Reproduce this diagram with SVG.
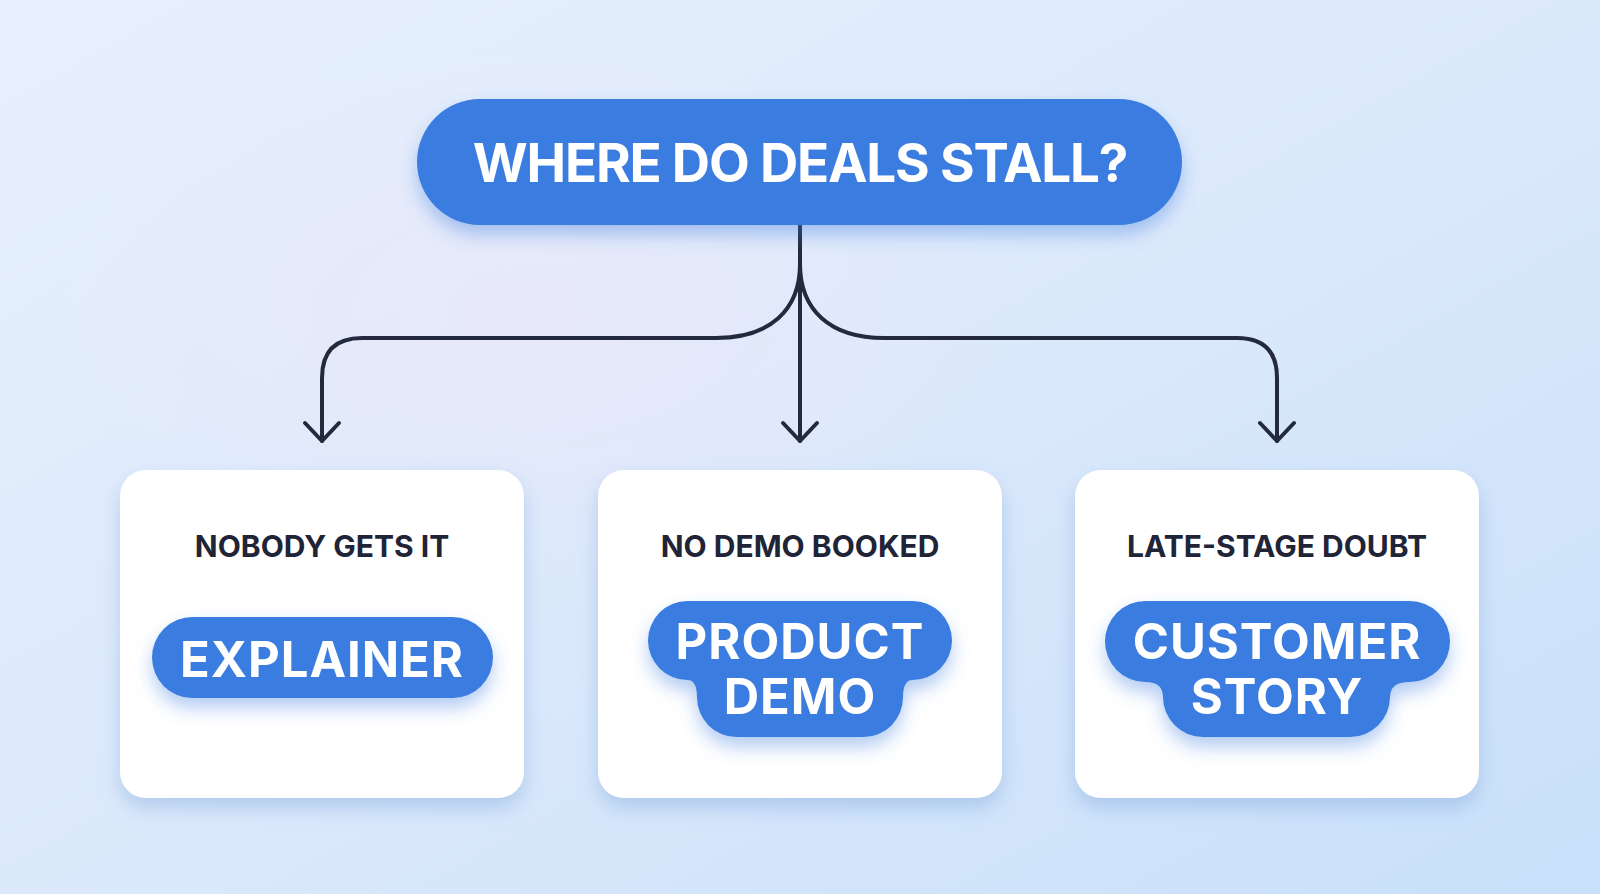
<svg xmlns="http://www.w3.org/2000/svg" width="1600" height="894" viewBox="0 0 1600 894">
  <defs>
    <linearGradient id="bg" x1="0" y1="0" x2="1" y2="1">
      <stop offset="0" stop-color="#e7f0fc"/>
      <stop offset="0.5" stop-color="#dce9fb"/>
      <stop offset="1" stop-color="#c8e0fa"/>
    </linearGradient>
    <radialGradient id="tint" cx="0.33" cy="0.35" r="0.3">
      <stop offset="0" stop-color="#efe6f6" stop-opacity="0.5"/>
      <stop offset="1" stop-color="#efe6f6" stop-opacity="0"/>
    </radialGradient>
    <filter id="cardShadow" x="-20%" y="-20%" width="140%" height="150%">
      <feDropShadow dx="0" dy="10" stdDeviation="10" flood-color="#7ea6dc" flood-opacity="0.45"/>
    </filter>
    <filter id="pillShadow" x="-20%" y="-30%" width="140%" height="180%">
      <feDropShadow dx="0" dy="10" stdDeviation="9" flood-color="#3b7be0" flood-opacity="0.38"/>
    </filter>
    <style>
      .pill { fill: #3b7be0; }
      .card { fill: #ffffff; }
      .title { font-family: Inter, "Liberation Sans", sans-serif; font-weight: 700; font-size: 53px; letter-spacing: -1.2px; fill: #ffffff; text-anchor: middle; }
      .label { font-family: Inter, "Liberation Sans", sans-serif; font-weight: 700; font-size: 30px; fill: #1f2437; text-anchor: middle; }
      .btn { font-family: Inter, "Liberation Sans", sans-serif; font-weight: 700; font-size: 49px; letter-spacing: 1px; fill: #ffffff; text-anchor: middle; }
      .link { fill: none; stroke: #232a3d; stroke-width: 4; stroke-linecap: round; stroke-linejoin: round; }
    </style>
  </defs>

  <rect x="0" y="0" width="1600" height="894" fill="url(#bg)"/>
  <rect x="0" y="0" width="1600" height="894" fill="url(#tint)"/>

  <g id="connectors">
    <path class="link" d="M800,226 L800,441"/>
    <path class="link" d="M800,264 C800,310 770,338 716,338 L362,338 Q322,338 322,378 L322,441"/>
    <path class="link" d="M800,264 C800,310 830,338 884,338 L1237,338 Q1277,338 1277,378 L1277,441"/>
    <path class="link" d="M305,423 L322,441 L339,423"/>
    <path class="link" d="M783,423 L800,441 L817,423"/>
    <path class="link" d="M1260,423 L1277,441 L1294,423"/>
  </g>

  <g id="root">
    <rect class="pill" x="417" y="99" width="765" height="126" rx="63" filter="url(#pillShadow)"/>
    <text class="title" x="800" y="182">WHERE DO DEALS STALL?</text>
  </g>

  <g id="card-explainer">
    <rect class="card" x="120" y="470" width="404" height="328" rx="26" filter="url(#cardShadow)"/>
    <text class="label" x="322" y="557">NOBODY GETS IT</text>
    <rect class="pill" x="152" y="617" width="341" height="81" rx="40.5" filter="url(#pillShadow)"/>
    <text class="btn" x="322" y="677">EXPLAINER</text>
  </g>

  <g id="card-demo">
    <rect class="card" x="598" y="470" width="404" height="328" rx="26" filter="url(#cardShadow)"/>
    <text class="label" x="800" y="557">NO DEMO BOOKED</text>
    <path class="pill" filter="url(#pillShadow)" d="M687.5,601 H912.5 A39.5,39.5 0 0 1 912.5,680 Q903,680 903,697.5 A39.5,39.5 0 0 1 863.5,737 H736.5 A39.5,39.5 0 0 1 697,697.5 Q697,680 687.5,680 A39.5,39.5 0 0 1 687.5,601 Z"/>
    <text class="btn" x="800" y="659">PRODUCT</text>
    <text class="btn" x="800" y="714">DEMO</text>
  </g>

  <g id="card-story">
    <rect class="card" x="1075" y="470" width="404" height="328" rx="26" filter="url(#cardShadow)"/>
    <text class="label" x="1277" y="557">LATE-STAGE DOUBT</text>
    <path class="pill" filter="url(#pillShadow)" d="M1145.5,601 H1409.5 A40.5,40.5 0 0 1 1409.5,682 Q1390,682 1390,697 A40,40 0 0 1 1350,737 H1203 A40,40 0 0 1 1163,697 Q1163,682 1145.5,682 A40.5,40.5 0 0 1 1145.5,601 Z"/>
    <text class="btn" x="1277" y="659">CUSTOMER</text>
    <text class="btn" x="1277" y="714">STORY</text>
  </g>
</svg>
